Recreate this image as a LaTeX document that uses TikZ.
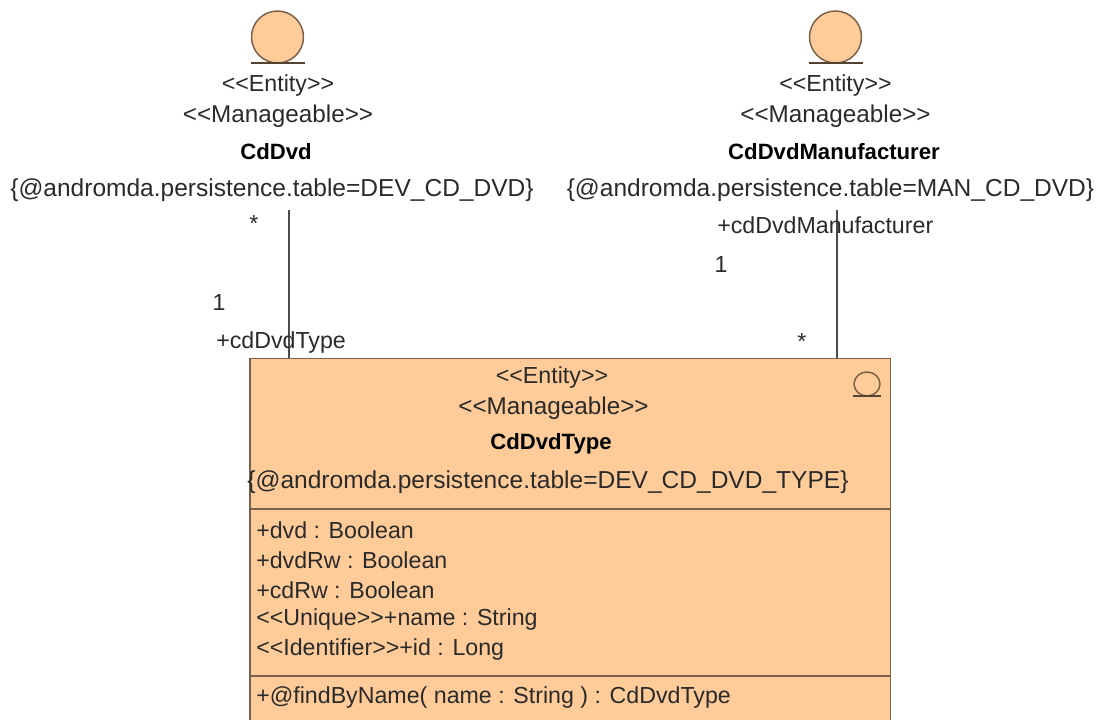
\documentclass[tikz,border=0pt]{standalone}
\usepackage{fontspec}
\setmainfont{Liberation Sans}
\usetikzlibrary{positioning}
\definecolor{entityfill}{HTML}{FFCC99}
\definecolor{entityline}{HTML}{7A6048}
\definecolor{umltext}{HTML}{2A2A2A}
\begin{document}
\begin{tikzpicture}
  [x=0.75pt,y=-0.75pt,
  label/.style={inner sep=0pt,text=umltext,font=\fontsize{17.4}{20}\selectfont},
  widelabel/.style={label,font=\fontsize{18.2}{20}\selectfont},
  taglabel/.style={label,font=\fontsize{18.4}{20}\selectfont},
  namelabel/.style={label,text=black,font=\fontsize{16.6}{20}\selectfont\bfseries},
  attr/.style={label,anchor=west},
  assoc/.style={draw=black!70,line width=0.9pt},
  entitybox/.style={draw=entityline,fill=entityfill,line width=1.1pt,inner sep=0pt},
  ballbase/.style={draw=entityline!70!black,line width=0.9pt}]
  \useasboundingbox (0,0) rectangle (1100,720);

  % left entity
  \draw[entitybox] (277.5,37) circle (26);
  \coordinate (dvdbase1) at (251,63);
  \coordinate (dvdbase2) at (304.5,63);
  \draw[ballbase] (dvdbase1) -- (dvdbase2);
  \node[label] (dvdst1) at (278,86) {<{}<Entity>{}>};
  \node[widelabel] (dvdst2) at (278,116) {<{}<Manageable>{}>};
  \node[namelabel] (dvdname) at (276,152) {CdDvd};
  \node[taglabel] (dvdtag) at (272,190) {\{@andromda.persistence.table=DEV\_CD\_DVD\}};

  % right entity
  \draw[entitybox] (835.5,37) circle (26);
  \coordinate (manbase1) at (809,63);
  \coordinate (manbase2) at (862.5,63);
  \draw[ballbase] (manbase1) -- (manbase2);
  \node[label] (manst1) at (835.5,86) {<{}<Entity>{}>};
  \node[widelabel] (manst2) at (835.5,116) {<{}<Manageable>{}>};
  \node[namelabel] (manname) at (834,152) {CdDvdManufacturer};
  \node[taglabel] (mantag) at (830.5,190) {\{@andromda.persistence.table=MAN\_CD\_DVD\}};

  % box
  \node[entitybox,anchor=north west,minimum width=640.5*0.75pt,minimum height=380*0.75pt] (typebox) at (249.2,358) {};
  \coordinate (sep1a) at (249.2,509);
  \coordinate (sep1b) at (889.7,509);
  \coordinate (sep2a) at (249.2,676);
  \coordinate (sep2b) at (889.7,676);
  \draw[entitybox] (sep1a) -- (sep1b);
  \draw[entitybox] (sep2a) -- (sep2b);
  \draw[entitybox] (867,384) ellipse (13 and 12);
  \coordinate (iconbase1) at (853,396);
  \coordinate (iconbase2) at (881,396);
  \draw[ballbase] (iconbase1) -- (iconbase2);

  \node[label] (typest1) at (552,378) {<{}<Entity>{}>};
  \node[widelabel] (typest2) at (553.5,408) {<{}<Manageable>{}>};
  \node[namelabel] (typename) at (551,444) {CdDvdType};
  \node[taglabel] (typetag) at (548,482) {\{@andromda.persistence.table=DEV\_CD\_DVD\_TYPE\}};

  \node[attr] (attr1) at (256,530) {+dvd : Boolean};
  \node[attr] (attr2) at (256,560) {+dvdRw : Boolean};
  \node[attr] (attr3) at (256,590) {+cdRw : Boolean};
  \node[attr] (attr4) at (256,619) {<{}<Unique>{}>+name : String};
  \node[attr] (attr5) at (256,649) {<{}<Identifier>{}>+id : Long};
  \node[attr] (oper1) at (256,697) {+@findByName( name : String ) : CdDvdType};

  % associations
  \coordinate (dvdend) at (289,210);
  \coordinate (manend) at (837,210);
  \draw[assoc] (dvdend) -- (dvdend |- typebox.north);
  \draw[assoc] (manend) -- (manend |- typebox.north);

  \node[label] (dvdmany) at (254,224) {*};
  \node[label] (dvdone) at (219,303) {1};
  \node[attr] (dvdrole) at (216,343) {+cdDvdType};
  \node[attr] (manrole) at (717,225) {+cdDvdManufacturer};
  \node[label] (manone) at (721,265) {1};
  \node[label] (manmany) at (802,342) {*};
\end{tikzpicture}
\end{document}
